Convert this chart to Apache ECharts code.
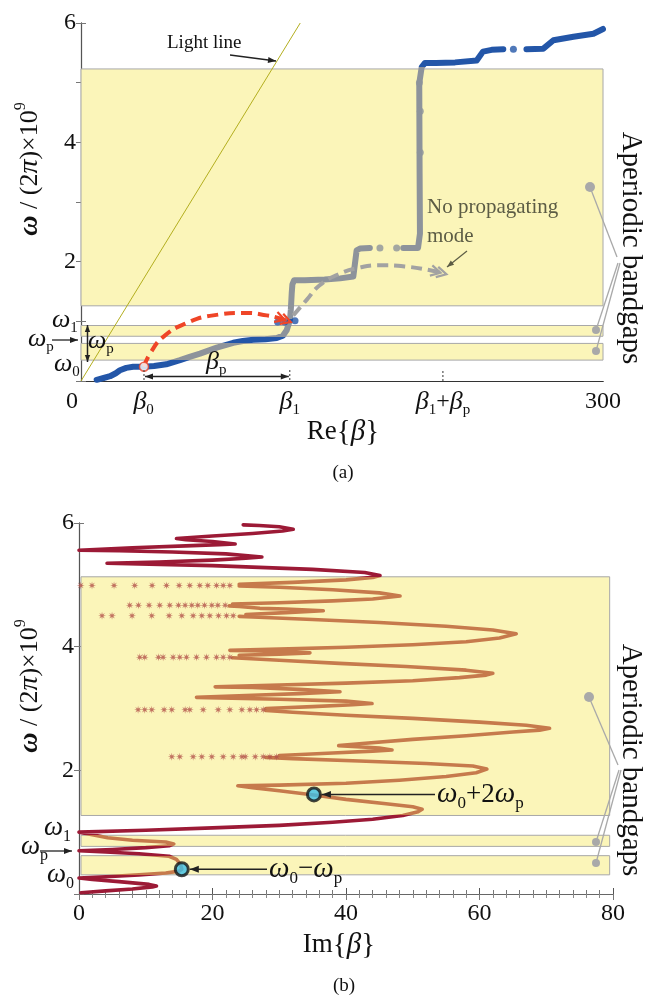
<!DOCTYPE html>
<html><head><meta charset="utf-8">
<script src="https://cdn.jsdelivr.net/npm/echarts@6/dist/echarts.min.js"></script>
<style>html,body{margin:0;padding:0;background:#fff}#c{width:646px;height:1007px}</style>
</head><body><div id="c"></div>
<script>
// ================= DATA =================
// ---- Panel (a): Re{beta} vs omega/(2pi) x 1e9 ----
const bandsA = [[0.35, 0.63], [0.75, 0.93], [1.26, 5.23]];
const lightLineA = [[0, 0], [126, 6]];
const xTickValuesA = [0, 36, 120, 208, 300];
const xTickLabelsA = ['0', 'β₀', 'β₁', 'β₁+βₚ', '300'];
const dispersionA1 = [[9,0.02],[13,0.05],[16.7,0.08],[20,0.13],[22.4,0.18],[26,0.22],[30,0.24],[36.2,0.24],[42,0.25],[49,0.28],[56.9,0.35],[62,0.40],[68.4,0.46],[78,0.56],[87.5,0.64],[93,0.67],[99,0.69],[106,0.70],[112.5,0.72],[116,0.76],[118.2,0.85],[120.1,1.02],[120.6,1.2],[121.1,1.47],[121.5,1.62],[122.5,1.69],[128.7,1.69],[140,1.70],[149,1.72],[156.5,1.75],[158.4,2.19],[160.3,2.22],[166,2.23]];
const dispersionA2 = [[185.2,2.23],[193.7,2.23],[194.8,2.47],[194.6,3.5],[194.4,4.99],[195.8,5.26],[197.7,5.33],[204,5.33],[215,5.34],[227.4,5.37],[231,5.52],[236,5.55],[242.7,5.56]];
const dispersionA3 = [[256,5.56],[265.7,5.57],[271.5,5.71],[283,5.77],[294.5,5.82],[300,5.9]];
const isolatedDotsA = [[171.8,2.23],[181.4,2.23],[194.5,5.0],[195,4.52],[195,3.83]];
const blueDotsA = [[248.5,5.56],[113,0.99],[117,0.99],[123,1.01]];
const startPointA = [[36.2, 0.24]];
const redArcA = [[36.2,0.24],[39.7,0.46],[47.3,0.74],[60.7,0.97],[76,1.1],[95,1.14],[106.7,1.1],[114.4,1.05],[118.5,1.01]];
const grayArcA = [[122,1.1],[129.7,1.36],[137,1.6],[148,1.79],[160,1.9],[172,1.94],[186,1.92],[200,1.86],[207,1.81]];

// ---- Panel (b): Im{beta} vs omega/(2pi) x 1e9 ----
const bandsB = [[0.31, 0.62], [0.77, 0.95], [1.27, 5.13]];
const bandXRangeB = [0.3, 79.5];
const imSeg1 = [[0.3,0.02],[4,0.05],[8,0.08],[11,0.115],[11.6,0.13],[10.5,0.155],[6,0.2],[2,0.235],[0,0.26],[4,0.28],[9,0.31],[13,0.34],[15,0.37],[15.4,0.40],[15.2,0.48],[14.6,0.56],[13.5,0.61],[9,0.65],[4,0.68],[0,0.70],[5,0.72],[10,0.75],[13.5,0.78],[14.2,0.81],[13,0.84],[8,0.87],[4.3,0.91],[2,0.96],[0,1.0],[10,1.03],[20,1.07],[30,1.11],[38,1.16],[44,1.21],[48.5,1.27],[50.8,1.33],[51.4,1.37],[50,1.41],[46,1.46],[40,1.53],[35.2,1.60],[30,1.67],[26,1.72],[23.8,1.75],[30,1.76],[40,1.79],[48,1.84],[55,1.9],[59.5,1.96],[61.1,2.02],[59,2.07],[52,2.11],[42,2.15],[32,2.19],[28,2.21]];
const imSeg2 = [[30,2.24],[38,2.28],[44,2.31],[46.9,2.33],[45,2.36],[38.9,2.40],[42,2.43],[50,2.5],[58,2.56],[65,2.62],[69,2.65],[70.5,2.68],[67,2.73],[60,2.78],[50,2.84],[40,2.89],[32,2.94],[28,2.97]];
const imSeg3 = [[28,3.0],[35,3.03],[41,3.06],[43.9,3.08],[40,3.12],[30,3.15],[17.6,3.18],[25,3.21],[33,3.24],[39.1,3.27],[33,3.31],[26,3.34],[20.4,3.35],[30,3.38],[40,3.41],[50,3.45],[57,3.5],[61,3.54],[62,3.57],[58,3.62],[49,3.68],[39,3.73],[30,3.78],[23,3.82]];
const imSeg4 = [[24,3.86],[30,3.88],[34.6,3.9],[28,3.93],[22.6,3.94],[30,3.96],[40,3.99],[50,4.03],[58,4.08],[63,4.14],[65.5,4.21],[62,4.27],[55,4.33],[45,4.39],[35,4.44],[26,4.48],[24,4.49]];
const imSeg5 = [[25,4.52],[31,4.55],[36.6,4.58],[31,4.61],[27.1,4.62],[24,4.65],[22.5,4.66]];
const imSeg6 = [[23,4.69],[30,4.71],[38,4.74],[44,4.77],[48.1,4.82],[45,4.87],[38,4.92],[30,4.96],[24,4.98]];
const imSeg7 = [[24,5.01],[32,5.04],[40,5.08],[44,5.12],[45.1,5.15],[42.8,5.2],[35,5.25],[20,5.31],[4.2,5.35],[12,5.37],[20,5.4],[25,5.43],[27.4,5.45],[22,5.5],[14,5.53],[6,5.55],[0,5.56],[8,5.6],[16,5.63],[21,5.65],[23.4,5.66],[20,5.7],[16,5.73],[14.6,5.75],[20,5.79],[26,5.83],[30.5,5.87],[32.1,5.9],[30,5.94],[27,5.96],[24.6,5.97]];
const sparseRowOmega = [2.22, 2.98, 3.83, 4.50, 4.67, 4.99];
const sparseRowIm = [
  [13.9,15.1,17.1,18.4,19.9,21.6,23.1,24.4,24.9,26.4,27.6,28.6,29.6],
  [8.85,9.85,10.9,12.75,13.9,15.9,16.6,18.6,20.85,22.6,24.4,25.6,26.6,27.6],
  [9.1,9.85,11.9,12.6,14.1,15.1,16.1,17.6,19.1,20.6,21.6,22.6],
  [3.45,4.95,7.95,10.9,13.5,15.4,17.1,18.4,19.6,20.9,22.1,23.1],
  [7.6,8.9,10.5,12.1,13.6,14.9,15.9,16.9,17.8,18.8,19.9,20.8,21.9],
  [0.26,1.95,5.25,8.35,10.95,13.1,15.0,16.6,18.1,19.3,20.6,21.6,22.6]
];
const markedPointsB = [[15.4, 0.40], [35.2, 1.61]];

// ================= STYLE =================
const SERIF = "'Liberation Serif','DejaVu Serif',serif";
const BLUE = '#2356a8', GRAY = '#8d939b', RED = '#9c1a36', ORANGE = '#c67a4c', YEL = '#fbf5b9', EDGE = '#a8a8a8';
const AX = '#333';

function toRich(s) {
  if (s === '0') return '{z|0}';
  const subs = {'₀':'0','₁':'1','ₚ':'p','₂':'2'};
  let out = '';
  for (const ch of s) {
    if (subs[ch]) out += '{s|' + subs[ch] + '}';
    else if ('βωπ'.includes(ch)) out += '{g|' + ch + '}';
    else out += '{n|' + ch + '}';
  }
  return out;
}
function richStyles(fs) {
  return {
    n: {fontFamily: SERIF, fontSize: fs, color: '#111', lineHeight: fs + 8, verticalAlign: 'middle'},
    z: {fontFamily: SERIF, fontSize: fs, color: '#111', lineHeight: fs + 8, verticalAlign: 'middle', padding: [0, 18, 0, 0]},
    g: {fontFamily: SERIF, fontSize: fs + 2, fontStyle: 'italic', color: '#111', lineHeight: fs + 8, verticalAlign: 'middle'},
    b: {fontFamily: SERIF, fontSize: fs + 2, fontStyle: 'italic', fontWeight: 'bold', color: '#111', lineHeight: fs + 8, verticalAlign: 'middle'},
    s: {fontFamily: SERIF, fontSize: Math.round(fs * 0.62), color: '#111', verticalAlign: 'bottom'},
    sup: {fontFamily: SERIF, fontSize: Math.round(fs * 0.62), color: '#111', verticalAlign: 'top'}
  };
}

const chart = echarts.init(document.getElementById('c'));

const series = [];
function add(s) { series.push(s); return series.length - 1; }

// bands
add({type: 'line', xAxisIndex: 0, yAxisIndex: 0, data: [], z: 1, silent: true,
  markArea: {silent: true, itemStyle: {color: YEL, borderColor: EDGE, borderWidth: 1},
    data: bandsA.map(b => [{xAxis: 0, yAxis: b[0]}, {xAxis: 300, yAxis: b[1]}])}});
add({type: 'line', xAxisIndex: 2, yAxisIndex: 2, data: [], z: 1, silent: true,
  markArea: {silent: true, itemStyle: {color: YEL, borderColor: EDGE, borderWidth: 1},
    data: bandsB.map(b => [{xAxis: bandXRangeB[0], yAxis: b[0]}, {xAxis: bandXRangeB[1], yAxis: b[1]}])}});

// panel (a)
add({type: 'line', xAxisIndex: 0, yAxisIndex: 0, data: lightLineA, showSymbol: false, z: 3,
  lineStyle: {color: '#b3ae1f', width: 1}});
const dispIdx = [dispersionA1, dispersionA2, dispersionA3].map(d => add({
  type: 'line', xAxisIndex: 0, yAxisIndex: 0, data: d, showSymbol: false, z: 4,
  lineStyle: {width: 6, cap: 'round', join: 'round'}}));
add({type: 'scatter', xAxisIndex: 0, yAxisIndex: 0, data: isolatedDotsA, symbolSize: 7, z: 4, itemStyle: {color: GRAY}});
add({type: 'scatter', xAxisIndex: 0, yAxisIndex: 0, data: blueDotsA, symbolSize: 7, z: 4, itemStyle: {color: BLUE}});
add({type: 'line', xAxisIndex: 0, yAxisIndex: 0, data: redArcA, smooth: true, showSymbol: false, z: 6,
  lineStyle: {color: '#ef4527', width: 4, type: [11, 6]}});
add({type: 'line', xAxisIndex: 0, yAxisIndex: 0, data: grayArcA, smooth: true, showSymbol: false, z: 6,
  lineStyle: {color: '#a2a2a2', width: 4, type: [11, 6]}});
add({type: 'scatter', xAxisIndex: 0, yAxisIndex: 0, data: startPointA, symbolSize: 9, z: 7,
  itemStyle: {color: '#fff', borderColor: '#e8442a', borderWidth: 1.5}});

// panel (b)
const segIdx = [imSeg1, imSeg2, imSeg3, imSeg4, imSeg5, imSeg6, imSeg7].map(d => add({
  type: 'line', xAxisIndex: 2, yAxisIndex: 2, data: d, showSymbol: false, z: 4,
  lineStyle: {width: 3.6, cap: 'round', join: 'round'}}));
// asterisk symbol path
const astPts = [];
for (let k = 0; k < 16; k++) {
  const a = k * Math.PI / 8, r = (k % 2 === 0) ? 1 : 0.35;
  astPts.push((Math.cos(a) * r).toFixed(3) + ',' + (Math.sin(a) * r).toFixed(3));
}
const asterisk = 'path://M' + astPts.join(' L') + ' Z';
const sparseData = [];
sparseRowOmega.forEach((w, i) => sparseRowIm[i].forEach(x => sparseData.push([x, w])));
add({type: 'scatter', xAxisIndex: 2, yAxisIndex: 2, data: sparseData, symbol: asterisk, symbolSize: 8, z: 4,
  itemStyle: {color: '#b3524a'}});
add({type: 'scatter', xAxisIndex: 2, yAxisIndex: 2, data: markedPointsB, symbolSize: 13, z: 8,
  itemStyle: {color: '#3cbfe8', borderColor: '#151515', borderWidth: 3}});

const yLabelFmt = v => (v === 2 || v === 4 || v === 6) ? String(v) : '';
const tickLbl = {fontFamily: SERIF, fontSize: 24, color: '#111'};

const option = {
  animation: false,
  backgroundColor: '#fff',
  grid: [
    {left: 81, top: 23, width: 522, height: 358},
    {left: 79, top: 523, width: 534, height: 371}
  ],
  xAxis: [
    {gridIndex: 0, type: 'value', min: 0, max: 300, position: 'bottom',
      axisLine: {lineStyle: {color: AX, width: 1.2}}, axisTick: {show: false}, splitLine: {show: false},
      axisLabel: {customValues: xTickValuesA, margin: 5, formatter: v => toRich(xTickLabelsA[xTickValuesA.indexOf(v)] || ''), rich: richStyles(24)}},
    {gridIndex: 0, type: 'value', min: 0, max: 300, position: 'top',
      axisLine: {lineStyle: {color: AX, width: 1.2}}, axisTick: {show: false}, axisLabel: {show: false}, splitLine: {show: false}},
    {gridIndex: 1, type: 'value', min: 0, max: 80, interval: 20, position: 'bottom',
      axisLine: {lineStyle: {color: AX, width: 1.2}}, axisTick: {inside: true, length: 6, lineStyle: {color: '#555'}},
      minorTick: {show: true, splitNumber: 10, length: 4, lineStyle: {color: '#777'}}, splitLine: {show: false},
      axisLabel: Object.assign({margin: 8}, tickLbl)},
    {gridIndex: 1, type: 'value', min: 0, max: 80, interval: 20, position: 'top',
      axisLine: {lineStyle: {color: '#666', width: 1}}, axisTick: {inside: true, length: 6, lineStyle: {color: '#777'}},
      minorTick: {show: true, splitNumber: 10, length: 4, lineStyle: {color: '#888'}}, axisLabel: {show: false}, splitLine: {show: false}}
  ],
  yAxis: [
    {gridIndex: 0, type: 'value', min: 0, max: 6, interval: 1, position: 'left',
      axisLine: {lineStyle: {color: AX, width: 1.2}}, axisTick: {inside: true, length: 5, lineStyle: {color: '#777'}},
      splitLine: {show: false}, axisLabel: Object.assign({margin: 5, formatter: yLabelFmt}, tickLbl)},
    {gridIndex: 0, type: 'value', min: 0, max: 6, interval: 1, position: 'right',
      axisLine: {lineStyle: {color: '#555', width: 1}}, axisTick: {inside: true, length: 5, lineStyle: {color: '#777'}},
      splitLine: {show: false}, axisLabel: {show: false}},
    {gridIndex: 1, type: 'value', min: 0, max: 6, interval: 2, position: 'left',
      axisLine: {lineStyle: {color: AX, width: 1.2}}, axisTick: {inside: true, length: 5, lineStyle: {color: '#777'}},
      splitLine: {show: false}, axisLabel: Object.assign({margin: 5, formatter: yLabelFmt}, tickLbl)},
    {gridIndex: 1, type: 'value', min: 0, max: 6, interval: 2, position: 'right',
      axisLine: {lineStyle: {color: '#555', width: 1}}, axisTick: {inside: true, length: 5, lineStyle: {color: '#777'}},
      splitLine: {show: false}, axisLabel: {show: false}}
  ],
  visualMap: [
    {type: 'piecewise', show: false, dimension: 1, seriesIndex: dispIdx,
      pieces: [{lt: 0.35, color: BLUE}, {gte: 0.35, lt: 0.63, color: GRAY}, {gte: 0.63, lt: 0.74, color: BLUE},
        {gte: 0.74, lt: 0.97, color: GRAY}, {gte: 0.97, lt: 1.04, color: BLUE}, {gte: 1.04, lt: 5.27, color: GRAY}, {gte: 5.27, color: BLUE}]},
    {type: 'piecewise', show: false, dimension: 1, seriesIndex: segIdx,
      pieces: [{lt: 0.31, color: RED}, {gte: 0.31, lt: 0.62, color: ORANGE}, {gte: 0.62, lt: 0.77, color: RED},
        {gte: 0.77, lt: 0.95, color: ORANGE}, {gte: 0.95, lt: 1.27, color: RED}, {gte: 1.27, lt: 5.13, color: ORANGE}, {gte: 5.13, color: RED}]}
  ],
  series: series
};
chart.setOption(option);

// ================= ANNOTATIONS =================
const G = [];
function rtext(x, y, str, fs, opts) {
  opts = opts || {};
  G.push({type: 'text', x: x, y: y, rotation: opts.rot || 0, z: 20, silent: true,
    style: {text: str, rich: richStyles(fs), fontFamily: SERIF, fontSize: fs + 2, fill: opts.color || '#111',
      align: opts.align || 'left', verticalAlign: 'middle'}});
}
function ptext(x, y, str, fs, color, align) {
  G.push({type: 'text', x: x, y: y, z: 20, silent: true,
    style: {text: str, fontFamily: SERIF, fontSize: fs, fill: color || '#111', align: align || 'left', verticalAlign: 'middle'}});
}
function head(xa, ya, xb, yb, hs, color) {
  const a = Math.atan2(yb - ya, xb - xa), w = hs * 0.38;
  G.push({type: 'polygon', z: 20, silent: true, shape: {points: [[xb, yb],
    [xb - hs * Math.cos(a) + w * Math.sin(a), yb - hs * Math.sin(a) - w * Math.cos(a)],
    [xb - hs * Math.cos(a) - w * Math.sin(a), yb - hs * Math.sin(a) + w * Math.cos(a)]]}, style: {fill: color}});
}
function arrow(x1, y1, x2, y2, color, lw, hs, both) {
  G.push({type: 'line', z: 20, silent: true, shape: {x1: x1, y1: y1, x2: x2, y2: y2}, style: {stroke: color, lineWidth: lw}});
  head(x1, y1, x2, y2, hs, color);
  if (both) head(x2, y2, x1, y1, hs, color);
}
function seg(x1, y1, x2, y2, color, lw, dash) {
  G.push({type: 'line', z: 19, silent: true, shape: {x1: x1, y1: y1, x2: x2, y2: y2},
    style: {stroke: color, lineWidth: lw, lineDash: dash || null}});
}
function dot(x, y, r, color) {
  G.push({type: 'circle', z: 19, silent: true, shape: {cx: x, cy: y, r: r}, style: {fill: color}});
}
function chevrons(p, q, size, color, lw) {
  const a = Math.atan2(q[1] - p[1], q[0] - p[0]);
  [0, size * 0.55].forEach(k => {
    const tx = q[0] - k * Math.cos(a), ty = q[1] - k * Math.sin(a);
    G.push({type: 'polyline', z: 21, silent: true, shape: {points: [
      [tx - size * Math.cos(a - 0.5), ty - size * Math.sin(a - 0.5)], [tx, ty],
      [tx - size * Math.cos(a + 0.5), ty - size * Math.sin(a + 0.5)]]},
      style: {stroke: color, lineWidth: lw, fill: null}});
  });
}
const PA = (x, y) => chart.convertToPixel({gridIndex: 0}, [x, y]);
const PB = (x, y) => chart.convertToPixel({gridIndex: 1}, [x, y]);

// y-axis names
const yName = '{b|ω}{n| / (2}{g|π}{n|)×10}{sup|9}';
rtext(30, 169, yName, 26, {rot: Math.PI / 2, align: 'center'});
rtext(30, 686, yName, 26, {rot: Math.PI / 2, align: 'center'});
// x-axis names (braces as plain text)
rtext(343, 432, '{n|Re}{{g|β}}', 27, {align: 'center'});
rtext(339, 945, '{n|Im}{{g|β}}', 27, {align: 'center'});
ptext(343, 473, '(a)', 19, '#111', 'center');
ptext(344, 986, '(b)', 19, '#111', 'center');
// Aperiodic bandgaps labels
rtext(631, 248, '{n|Aperiodic bandgaps}', 29, {rot: -Math.PI / 2, align: 'center'});
rtext(631, 760, '{n|Aperiodic bandgaps}', 29, {rot: -Math.PI / 2, align: 'center'});
// leader lines (a)
seg(590, 187, 617, 257, '#a9a9a9', 1.3); seg(618, 263, 596, 330, '#a9a9a9', 1.3); seg(620, 263, 596, 351, '#a9a9a9', 1.3);
dot(590, 187, 5, '#a9a9a9'); dot(596, 330, 4, '#a9a9a9'); dot(596, 351, 4, '#a9a9a9');
// leader lines (b)
seg(589, 697, 618, 765, '#a9a9a9', 1.3); seg(619, 770, 596, 842, '#a9a9a9', 1.3); seg(621, 770, 596, 863, '#a9a9a9', 1.3);
dot(589, 697, 5, '#a9a9a9'); dot(596, 842, 4, '#a9a9a9'); dot(596, 863, 4, '#a9a9a9');

// panel (a) texts
ptext(167, 43, 'Light line', 19);
arrow(230, 55, 276, 61, '#222', 1.3, 8);
ptext(427, 207, 'No propagating', 21, '#5c5c45');
ptext(427, 236, 'mode', 21, '#5c5c45');
arrow(467, 251, 447, 267, '#5c5c45', 1.2, 7);
rtext(52, 320, '{g|ω}{s|1}', 24);
rtext(28, 339, '{g|ω}{s|p}', 24);
arrow(52, 340, 78, 340, '#222', 1.3, 8);
rtext(88, 341, '{g|ω}{s|p}', 24);
arrow(87.5, 325, 87.5, 362, '#222', 1.5, 7, true);
rtext(54, 364, '{g|ω}{s|0}', 24);
rtext(206, 362, '{g|β}{s|p}', 24);
{
  const b0 = PA(36.2, 0), b1 = PA(120, 0), b2 = PA(208, 0);
  arrow(b0[0] + 1, 376.5, b1[0] - 1, 376.5, '#222', 1.3, 8, true);
  seg(b0[0], 370, b0[0], 381, '#333', 1, [2, 2]);
  seg(b1[0], 370, b1[0], 381, '#333', 1, [2, 2]);
  seg(b2[0], 371, b2[0], 381, '#333', 1, [2, 2]);
}
// arrowheads of the dashed arcs
chevrons(PA(redArcA[redArcA.length - 2][0], redArcA[redArcA.length - 2][1]), PA(120.5, 0.99), 11, '#ef4527', 2.2);
chevrons(PA(grayArcA[grayArcA.length - 2][0], grayArcA[grayArcA.length - 2][1]), PA(210, 1.79), 11, '#a2a2a2', 2.2);

// panel (b) texts
rtext(44, 828, '{g|ω}{s|1}', 25);
rtext(21, 847, '{g|ω}{s|p}', 25);
arrow(40, 851, 72, 851, '#222', 1.3, 8);
rtext(47, 875, '{g|ω}{s|0}', 25);
{
  const d1 = PB(markedPointsB[0][0], markedPointsB[0][1]);
  const d2 = PB(markedPointsB[1][0], markedPointsB[1][1]);
  arrow(267, d1[1], d1[0] + 8, d1[1], '#222', 1.4, 9);
  rtext(269, d1[1], '{g|ω}{s|0}{n|−}{g|ω}{s|p}', 27);
  arrow(435, d2[1], d2[0] + 8, d2[1], '#222', 1.4, 9);
  rtext(437, d2[1], '{g|ω}{s|0}{n|+2}{g|ω}{s|p}', 27);
}
chart.setOption({graphic: G});
</script></body></html>
